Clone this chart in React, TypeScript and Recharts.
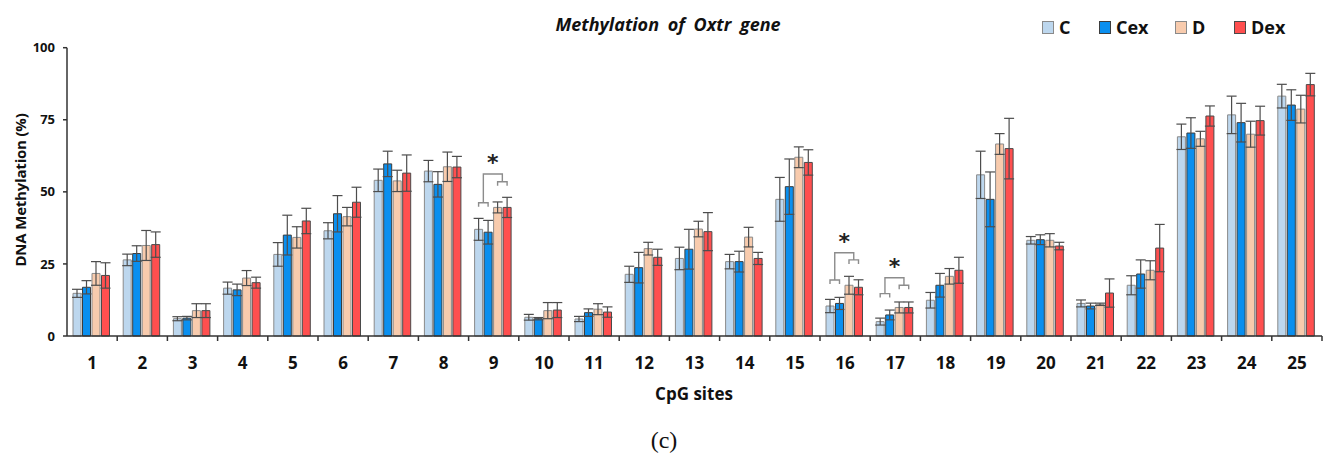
import React from 'react';
import { BarChart, Bar, XAxis, YAxis, ErrorBar, Rectangle } from 'recharts';

// CpG sites on the x axis
const sites = ['1', '2', '3', '4', '5', '6', '7', '8', '9', '10', '11', '12', '13', '14', '15', '16', '17', '18', '19', '20', '21', '22', '23', '24', '25'];

// mean methylation (%) per group
const cMean = [14.8, 26.4, 6.0, 16.6, 28.3, 36.5, 54.0, 57.2, 37.0, 6.5, 5.9, 21.4, 26.9, 25.8, 47.4, 10.4, 5.0, 12.4, 55.9, 33.2, 11.3, 17.6, 69.1, 76.7, 83.2];
const cexMean = [16.9, 28.6, 6.2, 16.0, 35.0, 42.4, 59.7, 52.6, 36.0, 6.0, 8.1, 23.7, 30.1, 25.8, 51.8, 11.3, 7.3, 17.6, 47.4, 33.4, 10.4, 21.5, 70.4, 74.0, 80.1];
const dMean = [21.7, 31.4, 8.8, 20.1, 34.2, 41.4, 53.8, 58.7, 44.6, 8.8, 9.3, 30.3, 37.1, 34.3, 62.0, 17.6, 9.9, 20.7, 66.6, 33.2, 11.0, 22.8, 68.4, 70.0, 78.7];
const dexMean = [21.0, 31.7, 8.8, 18.5, 39.9, 46.4, 56.5, 58.6, 44.6, 9.0, 8.3, 27.3, 36.2, 26.9, 60.2, 16.9, 9.9, 22.8, 65.0, 31.2, 14.9, 30.5, 76.3, 74.7, 87.2];

// error bar sizes
const cErr = [1.4, 2.0, 0.7, 2.1, 4.1, 2.8, 3.9, 3.7, 3.8, 1.0, 0.9, 2.8, 3.9, 2.5, 7.6, 2.3, 1.2, 2.7, 8.2, 1.3, 1.2, 3.3, 4.4, 6.5, 4.1];
const cexErr = [2.3, 2.7, 0.6, 2.0, 6.9, 6.3, 4.4, 4.4, 4.1, 0.4, 1.3, 5.3, 6.9, 3.6, 9.6, 2.1, 1.7, 4.1, 9.5, 1.7, 1.0, 4.9, 5.3, 6.7, 5.3];
const dErr = [4.1, 5.2, 2.4, 2.6, 3.7, 3.2, 3.7, 5.1, 1.9, 2.8, 1.9, 2.2, 2.7, 3.4, 3.6, 3.1, 1.9, 2.7, 3.6, 2.3, 0.4, 3.3, 2.6, 4.5, 4.8];
const dexErr = [4.4, 4.4, 2.4, 1.9, 4.4, 5.2, 6.3, 3.7, 3.5, 2.6, 1.8, 2.8, 6.6, 2.1, 4.4, 2.6, 1.9, 4.5, 10.5, 1.3, 4.9, 8.2, 3.5, 5.0, 3.9];

const yTicks = [0, 25, 50, 75, 100];

// significance brackets (levels in % units)
const sigSites = ['9', '16', '17'];
const sigLeft = [46.2, 19.4, 14.7];
const sigRight = [53.5, 26.4, 17.6];
const sigTop = [56.2, 28.9, 20.2];

const groups = [
  { key: 'c', name: 'C', fill: '#BDD7EE', stroke: '#8a8a8a' },
  { key: 'cex', name: 'Cex', fill: '#0A8FEF', stroke: '#3d3d3d' },
  { key: 'd', name: 'D', fill: '#F8CBAD', stroke: '#8a8a8a' },
  { key: 'dex', name: 'Dex', fill: '#FF4F4F', stroke: '#4a4a4a' },
];

const data = sites.map((s, i) => ({
  site: s,
  c: cMean[i], cErr: cErr[i],
  cex: cexMean[i], cexErr: cexErr[i],
  d: dMean[i], dErr: dErr[i],
  dex: dexMean[i], dexErr: dexErr[i],
}));

const FONT = '"Open Sans", sans-serif';
const PLOT_LEFT = 67;
const PLOT_RIGHT = 1322;
const PLOT_BOTTOM = 336;
const BAR_GAP = 1.5;
const HALF_BAND = (PLOT_RIGHT - PLOT_LEFT) / sites.length / 2;

const XTick = ({ x, payload }: any) => (
  <g>
    <text x={x} y={PLOT_BOTTOM + 33} textAnchor="middle" fontSize={17} fontWeight={700} fill="#111" fontFamily={FONT}>
      {payload.value}
    </text>
    <line x1={x + HALF_BAND} x2={x + HALF_BAND} y1={PLOT_BOTTOM} y2={PLOT_BOTTOM + 5} stroke="#333" strokeWidth={1.5} />
  </g>
);

// last bar of each group also draws the significance bracket for its site
const DexShape = (props: any) => {
  const { x, y, width, height, payload } = props;
  const si = sigSites.indexOf(payload.site);
  let bracket = null;
  if (si >= 0) {
    const v = payload.dex;
    const k = height / v;
    const y0 = y + height;
    const toY = (val: number) => y0 - val * k;
    const step = width + BAR_GAP;
    const cx = x - 3 * step + width / 2;
    const cexx = x - 2 * step + width / 2;
    const dx = x - step + width / 2;
    const dexx = x + width / 2;
    const yl = toY(sigLeft[si]);
    const yr = toY(sigRight[si]);
    const yt = toY(sigTop[si]);
    const ml = (cx + cexx) / 2;
    const mr = (dx + dexx) / 2;
    const col = '#8c8c8c';
    bracket = (
      <g fill="none" stroke={col} strokeWidth={1.4}>
        <path d={`M${cx},${yl + 4} V${yl} H${cexx} V${yl + 4}`} />
        <path d={`M${dx},${yr + 4} V${yr} H${dexx} V${yr + 4}`} />
        <path d={`M${ml},${yl} V${yt} H${mr} V${yr}`} />
        <text x={(ml + mr) / 2} y={yt - 4} textAnchor="middle" fontSize={22} fontWeight={700} fill="#222" stroke="none" fontFamily="DejaVu Sans">
          *
        </text>
      </g>
    );
  }
  return (
    <g>
      <Rectangle {...props} />
      {bracket}
    </g>
  );
};

export default function App() {
  return (
    <div style={{ position: 'absolute', left: 0, top: 0, width: 1327, height: 455, background: '#fff' }}>
      <BarChart
        width={1327}
        height={455}
        data={data}
        margin={{ top: 47.7, right: 1327 - PLOT_RIGHT, bottom: 89, left: 7 }}
        barCategoryGap={6}
        barGap={BAR_GAP}
      >
        <XAxis
          dataKey="site"
          height={30}
          tickLine={false}
          axisLine={{ stroke: '#333', strokeWidth: 1.5 }}
          tick={<XTick />}
          interval={0}
        />
        <YAxis
          width={60}
          domain={[0, 100]}
          ticks={yTicks}
          tickSize={4}
          tickMargin={8}
          axisLine={{ stroke: '#333', strokeWidth: 1.5 }}
          tickLine={{ stroke: '#333', strokeWidth: 1.5 }}
          tick={{ fontSize: 13, fontWeight: 700, fill: '#111', fontFamily: FONT }}
        />
        {groups.map((g) => (
          <Bar
            key={g.key}
            dataKey={g.key}
            fill={g.fill}
            stroke={g.stroke}
            strokeWidth={1}
            isAnimationActive={false}
            shape={g.key === 'dex' ? <DexShape /> : undefined}
          >
            <ErrorBar dataKey={g.key + 'Err'} direction="y" width={5} stroke="#4d4d4d" strokeWidth={1.2} />
          </Bar>
        ))}
      </BarChart>

      {/* title */}
      <div style={{ position: 'absolute', left: 668, top: 24, transform: 'translate(-50%, -50%)', fontFamily: FONT, fontWeight: 700, fontStyle: 'italic', fontSize: 18, whiteSpace: 'nowrap', color: '#111', wordSpacing: 4 }}>
        Methylation of Oxtr gene
      </div>

      {/* legend */}
      {groups.map((g, i) => (
        <div key={g.key} style={{ position: 'absolute', left: [1042, 1099, 1175, 1234][i], top: 15, display: 'flex', alignItems: 'center', fontFamily: FONT, fontWeight: 700, fontSize: 18, color: '#111' }}>
          <span style={{ display: 'inline-block', width: 10, height: 11, background: g.fill, border: `1px solid ${g.stroke}`, marginRight: 5 }} />
          {g.name}
        </div>
      ))}

      {/* y axis title */}
      <div style={{ position: 'absolute', left: 20, top: 190, transform: 'translate(-50%, -50%) rotate(-90deg)', fontFamily: FONT, fontWeight: 700, fontSize: 15, whiteSpace: 'nowrap', color: '#111', letterSpacing: -0.2 }}>
        DNA Methylation (%)
      </div>

      {/* x axis title */}
      <div style={{ position: 'absolute', left: 694, top: 393, transform: 'translate(-50%, -50%)', fontFamily: FONT, fontWeight: 700, fontSize: 17, whiteSpace: 'nowrap', color: '#111' }}>
        CpG sites
      </div>

      {/* panel label */}
      <div style={{ position: 'absolute', left: 664, top: 440, transform: 'translate(-50%, -50%)', fontFamily: '"Liberation Serif", serif', fontSize: 24, whiteSpace: 'nowrap', color: '#111' }}>
        (c)
      </div>
    </div>
  );
}
